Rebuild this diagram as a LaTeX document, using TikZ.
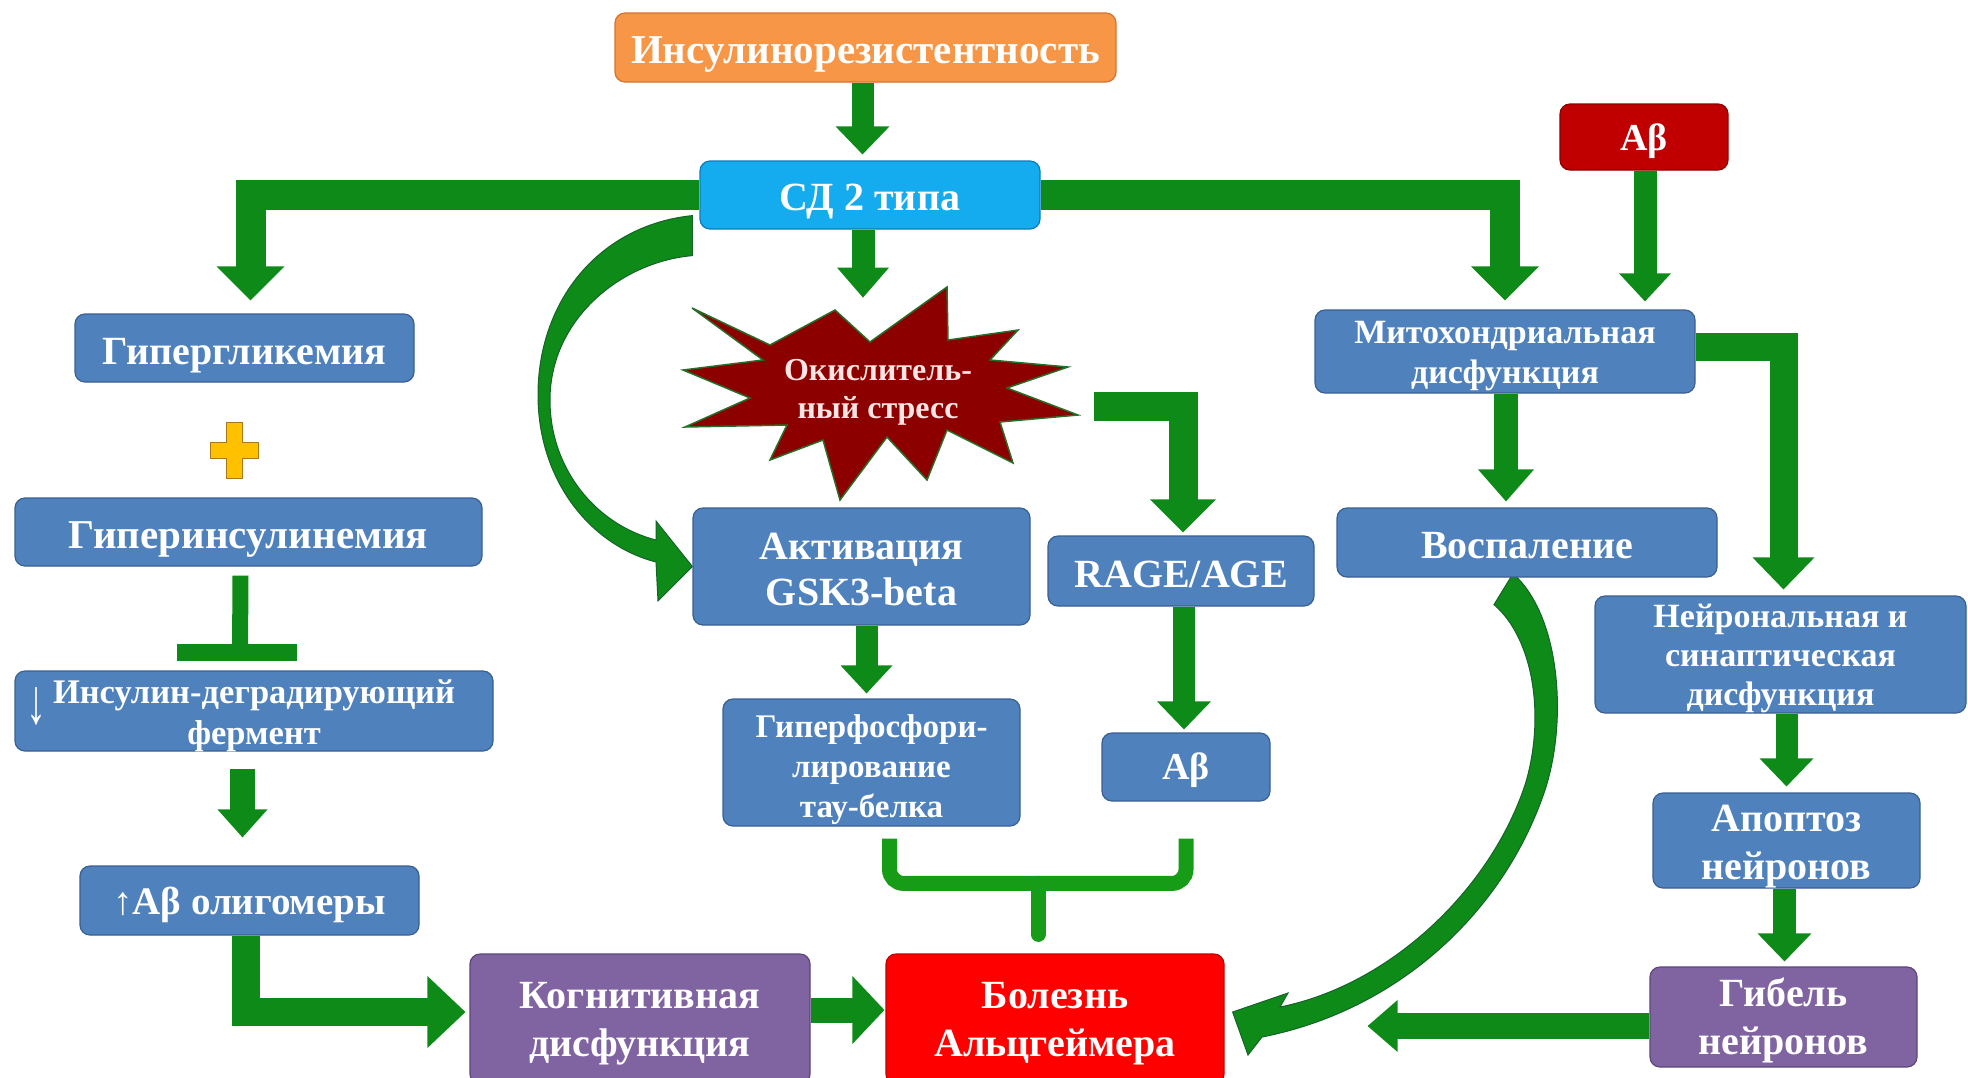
\documentclass[tikz,border=0pt]{standalone}
\usepackage{fontspec}
\setmainfont{Liberation Serif}
\usetikzlibrary{calc}

\definecolor{boxblue}{RGB}{79,129,189}
\definecolor{boxedge}{RGB}{58,96,145}
\definecolor{skyblue}{RGB}{20,172,238}
\definecolor{skyedge}{RGB}{12,125,185}
\definecolor{orng}{RGB}{247,150,70}
\definecolor{orngedge}{RGB}{212,115,45}
\definecolor{abred}{RGB}{192,0,0}
\definecolor{abredge}{RGB}{140,0,0}
\definecolor{purp}{RGB}{128,100,162}
\definecolor{purpedge}{RGB}{92,70,122}
\definecolor{adred}{RGB}{255,0,0}
\definecolor{adedge}{RGB}{195,0,0}
\definecolor{arrgreen}{RGB}{14,138,24}
\definecolor{brkgreen}{RGB}{22,156,22}
\definecolor{curvedge}{RGB}{20,100,40}
\definecolor{starfill}{RGB}{140,0,0}
\definecolor{staredge}{RGB}{40,110,40}
\definecolor{plusfill}{RGB}{255,192,0}
\definecolor{plusedge}{RGB}{170,120,20}
\definecolor{startext}{RGB}{255,228,228}

\pgfdeclarelayer{bg}
\pgfsetlayers{bg,main}

% block-arrow heads: #1 tip, #2 head width, #3 head length
\newcommand\tipdown[3]{\fill[arrgreen] (#1) -- ++(-#2/2,-#3) -- ++(#2,0) -- cycle;}
\newcommand\tipright[3]{\fill[arrgreen] (#1) -- ++(-#3,-#2/2) -- ++(0,#2) -- cycle;}
\newcommand\tipleft[3]{\fill[arrgreen] (#1) -- ++(#3,-#2/2) -- ++(0,#2) -- cycle;}
% lower a line of text optically without changing its box
\newcommand\lo[2][5]{\raisebox{-#1pt}[\height][\depth]{#2}}

\tikzset{
  shaft/.style={draw=arrgreen, line width=#1, line cap=butt, line join=miter},
  brk/.style={draw=brkgreen, line width=15, rounded corners=14},
  inhib/.style={draw=arrgreen, line width=#1, line cap=butt},
  curved/.style={fill=arrgreen, draw=curvedge, line width=1},
  box/.style={rectangle, rounded corners=10, draw=boxedge, line width=1.2,
    fill=boxblue, text=white, align=center, inner sep=0pt},
  fs/.style 2 args={font=\bfseries\fontsize{#1}{#2}\selectfont},
}

\begin{document}
\begin{tikzpicture}[x=1pt,y=-1pt]
\useasboundingbox (0,0) rectangle (1968,1077);
\begin{pgfonlayer}{bg}
\fill[white] (0,0) rectangle (1968,1077);
\end{pgfonlayer}

% ---------- boxes ----------
\node[box, fill=orng, draw=orngedge, fs={41}{48}, minimum width=501, minimum height=69] (ins) at (865.5,47.5) {\lo[7]{Инсулинорезистентность}};
\node[box, fill=skyblue, draw=skyedge, fs={40}{48}, minimum width=340, minimum height=68] (sd) at (870,195) {\lo[7]{СД 2 типа}};
\node[box, fill=abred, draw=abredge, fs={38}{46}, minimum width=168, minimum height=66] (abR) at (1644,137) {\lo[4]{Aβ}};

\node[box, fs={40}{48}, minimum width=339, minimum height=68] (hyperg) at (244.5,348) {\lo[8]{Гипергликемия}};
\node[box, fs={41}{48}, minimum width=467, minimum height=68] (hyperi) at (248.5,532) {\lo[7]{Гиперинсулинемия}};
\node[box, fs={34.5}{41}, minimum width=478, minimum height=80] (ide) at (254,711) {\lo{Инсулин-деградирующий}\\\lo{фермент}};
\node[text=white, font=\fontsize{40}{40}\selectfont, inner sep=0pt] (idedown) at (37,706) {\scalebox{1}[1.6]{↓}};
\node[box, fs={39}{46}, minimum width=339, minimum height=69] (olig) at (249.5,900.5) {\lo[4]{↑Aβ олигомеры}};

\node[box, fill=purp, draw=purpedge, fs={40}{48}, minimum width=340, minimum height=130] (cog) at (640,1019) {\lo{Когнитивная}\\\lo{дисфункция}};
\node[box, fill=adred, draw=adedge, fs={40}{48}, minimum width=338, minimum height=130] (ad) at (1055,1019) {\lo{Болезнь}\\\lo{Альцгеймера}};

\node[box, fs={40}{46}, minimum width=337, minimum height=117] (gsk) at (861.5,566.5) {\lo[3]{Активация}\\\lo[3]{GSK3-beta}};
\node[box, fs={40}{48}, minimum width=266, minimum height=70] (rage) at (1181,571) {\lo[3]{RAGE/AGE}};
\node[box, fs={33}{40}, minimum width=297, minimum height=127] (tau) at (871.5,762.5) {\lo[7]{Гиперфосфори-}\\\lo[7]{лирование}\\\lo[7]{тау-белка}};
\node[box, fs={38}{46}, minimum width=168, minimum height=68] (abM) at (1186,767) {\lo[3]{Aβ}};

\node[box, fs={34}{40}, minimum width=380, minimum height=83] (mito) at (1505,351.5) {\lo[5]{Митохондриальная}\\\lo[5]{дисфункция}};
\node[box, fs={40}{48}, minimum width=380, minimum height=69] (infl) at (1527,542.5) {\lo[3]{Воспаление}};
\node[box, fs={34}{39}, minimum width=371, minimum height=117] (neur) at (1780.5,654.5) {\lo[4]{Нейрональная и}\\\lo[4]{синаптическая}\\\lo[4]{дисфункция}};
\node[box, fs={40}{48}, minimum width=267, minimum height=95] (apop) at (1786.5,840.5) {\lo[6]{Апоптоз}\\\lo[6]{нейронов}};
\node[box, fill=purp, draw=purpedge, fs={40}{48}, minimum width=267, minimum height=100] (death) at (1783.5,1017) {\lo[3]{Гибель}\\\lo[3]{нейронов}};

% ---------- oxidative stress burst ----------
\draw[fill=starfill, draw=staredge, line width=1.5, line join=miter]
  (692,308) -- (770,345) -- (835,310) -- (870,342) -- (947,287) -- (948,340)
  -- (1018,330) -- (990,360) -- (1068,367) -- (1007,388) -- (1078,415)
  -- (1000,422) -- (1013,463) -- (947,430) -- (927,480) -- (887,437)
  -- (840,500) -- (823,440) -- (770,460) -- (787,425) -- (685,427)
  -- (750,398) -- (683,370) -- (763,360) -- cycle;
\node[text=startext, fs={32}{38}, align=center, inner sep=0pt] (ox) at (878,392) {Окислитель-\\ный стресс};

% ---------- plus sign ----------
\draw[fill=plusfill, draw=plusedge, line width=1, shift={(234,450)}]
  (-8,-28) -- (8,-28) -- (8,-8) -- (24,-8) -- (24,8) -- (8,8) -- (8,28)
  -- (-8,28) -- (-8,8) -- (-24,8) -- (-24,-8) -- (-8,-8) -- cycle;

% ---------- connectors ----------
\begin{pgfonlayer}{bg}
% insulin resistance -> T2DM
\coordinate (tA) at ($(ins.south |- sd.north)+(-3,-6)$);
\draw[shaft=22] (tA |- ins.south) -- ($(tA)+(0,-27)$);
\tipdown{tA}{54}{28}

% T2DM -> hyperglycaemia
\coordinate (tB) at ($(hyperg.north)+(6,-13)$);
\draw[shaft=30] (sd.west) -| ($(tB)+(0,-33)$);
\tipdown{tB}{68}{34}

% T2DM -> mitochondrial dysfunction
\coordinate (tC) at ($(mito.north)+(0,-9)$);
\draw[shaft=30] (sd.east) -| ($(tC)+(0,-33)$);
\tipdown{tC}{68}{34}

% amyloid -> mitochondrial dysfunction
\coordinate (tD) at ($(abR.south |- mito.north)+(1,-8)$);
\draw[shaft=23] (tD |- abR.south) -- ($(tD)+(0,-27)$);
\tipdown{tD}{52}{28}

% T2DM -> oxidative stress
\coordinate (tE) at ($(sd.south)+(-7,68)$);
\draw[shaft=23] (tE |- sd.south) -- ($(tE)+(0,-29)$);
\tipdown{tE}{52}{30}

% oxidative stress -> RAGE/AGE
\coordinate (gS) at ($(ox.center)+(216,14)$);
\coordinate (tG) at ($(rage.north)+(2,-3)$);
\draw[shaft=29] (gS) -| ($(tG)+(0,-32)$);
\tipdown{tG}{66}{33}

% GSK3 -> tau
\coordinate (tH) at ($(tau.north)+(-5,-5)$);
\draw[shaft=22] (tH |- gsk.south) -- ($(tH)+(0,-27)$);
\tipdown{tH}{52}{28}

% RAGE/AGE -> amyloid
\coordinate (tI) at ($(abM.north)+(-2,-3)$);
\draw[shaft=22] (tI |- rage.south) -- ($(tI)+(0,-27)$);
\tipdown{tI}{54}{28}

% hyperinsulinaemia inhibits IDE
\coordinate (tb1) at ($(hyperi.south)+(-8,9)$);
\coordinate (tb2) at ($(ide.north)+(-14,-18)$);
\draw[inhib=16] (tb1) -- (tb2);
\draw[inhib=17] ($(tb2)+(-63,0)$) -- ($(tb2)+(57,0)$);

% IDE -> amyloid oligomers
\coordinate (tK) at ($(olig.north)+(-7,-28)$);
\draw[shaft=25] ($(tK |- ide.south)+(0,17)$) -- ($(tK)+(0,-27)$);
\tipdown{tK}{50}{28}

% oligomers -> cognitive dysfunction
\coordinate (tL) at ($(cog.west)+(-4,-7)$);
\draw[shaft=28] ($(olig.south)+(-4,0)$) |- ($(tL)+(-37,0)$);
\tipright{tL}{72}{38}

% cognitive dysfunction -> AD
\coordinate (tM) at ($(ad.west)+(-1,-9)$);
\draw[shaft=25] (cog.east |- tM) -- ($(tM)+(-31,0)$);
\tipright{tM}{68}{32}

% mitochondria -> inflammation
\coordinate (tN) at ($(infl.north)+(-21,-6)$);
\draw[shaft=24] (tN |- mito.south) -- ($(tN)+(0,-31)$);
\tipdown{tN}{56}{32}

% mitochondria -> neuronal dysfunction
\coordinate (tO) at ($(neur.north)+(3,-6)$);
\draw[shaft=28] ($(mito.east)+(0,-5)$) -| ($(tO)+(0,-31)$);
\tipdown{tO}{62}{32}

% neuronal dysfunction -> apoptosis
\coordinate (tP) at ($(apop.north)+(0,-6)$);
\draw[shaft=22] (tP |- neur.south) -- ($(tP)+(0,-27)$);
\tipdown{tP}{54}{28}

% apoptosis -> neuronal death
\coordinate (tQ) at ($(death.north)+(1,-5)$);
\draw[shaft=23] (tQ |- apop.south) -- ($(tQ)+(0,-27)$);
\tipdown{tQ}{54}{28}

% neuronal death -> AD
\coordinate (tR) at ($(ad.east)+(143,7)$);
\draw[shaft=26] (death.west |- tR) -- ($(tR)+(29,0)$);
\tipleft{tR}{52}{30}

% tau + amyloid join into AD
\coordinate (brL) at ($(tau.south)+(18,12)$);
\coordinate (brR) at ($(abM.south)+(0,37)$);
\coordinate (brM) at ($(ad.north)+(-17,-70)$);
\coordinate (brS) at ($(ad.north)+(-17,-19)$);
\draw[brk] (brL) |- (brM) -| (brR);
\draw[brk, line cap=round] (brM) -- (brS);

% curved: T2DM -> GSK3 activation
\coordinate (fA) at ($(sd.south west)+(-7,-14)$);
\coordinate (fB) at ($(sd.south west)+(-7,26)$);
\draw[curved] (fA) .. controls (600,225) and (538,300) .. (538,395)
  .. controls (538,480) and (590,545) .. (656,562)
  -- (658,601) -- (gsk.west) -- (656,521) -- (656,540)
  .. controls (597,525) and (550,470) .. (550,400)
  .. controls (550,320) and (620,262) .. (fB) -- cycle;

% curved: inflammation -> AD
\coordinate (sA) at ($(infl.south)+(-14,-4)$);
\coordinate (sB) at ($(infl.south)+(-33,27)$);
\coordinate (sT) at ($(ad.east)+(8,-7)$);
\draw[curved] (sA) .. controls (1560,615) and (1568,720) .. (1545,790)
  .. controls (1505,910) and (1400,1010) .. (1262,1037)
  -- (1248,1055) -- (sT) -- (1288,993) -- (1280,1007)
  .. controls (1390,985) and (1490,890) .. (1525,785)
  .. controls (1545,720) and (1535,640) .. (sB) -- cycle;
\end{pgfonlayer}
\end{tikzpicture}
\end{document}
